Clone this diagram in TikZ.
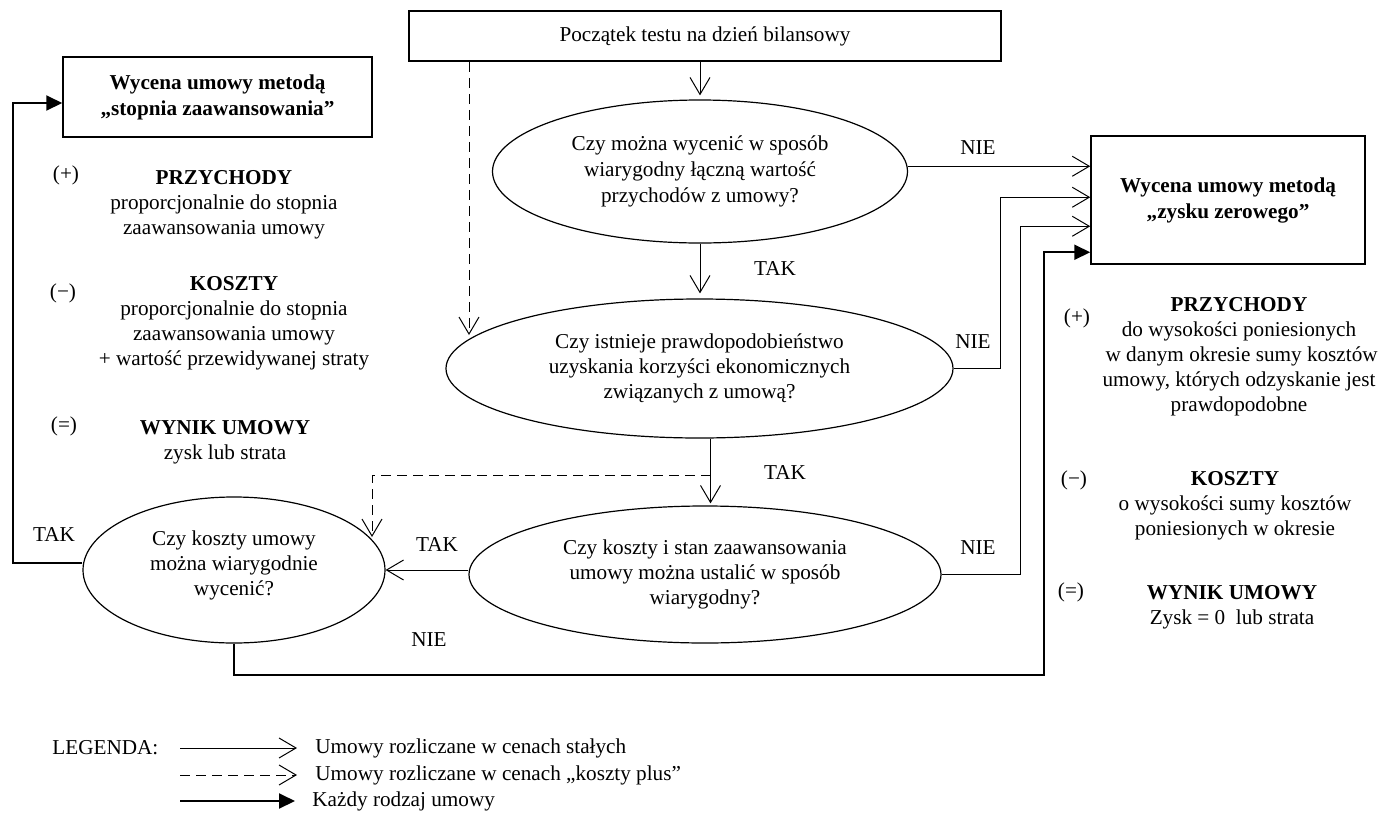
\documentclass[tikz,border=0pt]{standalone}
\usepackage{fontspec}
\setmainfont{Liberation Serif}
\usetikzlibrary{arrows.meta,shapes.geometric,calc}
\begin{document}
\begin{tikzpicture}[x=0.5pt,y=-0.5pt,
  txt/.style={font=\fontsize{10.6}{12.5}\selectfont, inner sep=0pt, align=center},
  box/.style={draw, line width=0.75pt, inner sep=0pt, align=center, font=\fontsize{10.6}{13}\selectfont},
  bbox/.style={box, font={\fontsize{10.6}{13}\selectfont\bfseries}},
  ell/.style={ellipse, draw, line width=0.6pt, inner sep=0pt, align=center, font=\fontsize{10.6}{12.5}\selectfont},
  arr/.style={line width=0.5pt, -{Straight Barb[length=8.5pt,width=10pt]}},
  darr/.style={arr, dash pattern=on 5pt off 3pt},
  tarr/.style={line width=1pt, -{Triangle[length=8pt,width=7.5pt]}},
]
\useasboundingbox (0,0) rectangle (1383,820);

% boxes
\node[box, minimum width=296pt, minimum height=25pt] (start) at (705,36) {Początek testu na dzień bilansowy};
\node[bbox, minimum width=154.5pt, minimum height=40pt] (lb) at (217.5,97) {Wycena umowy metodą\\„stopnia zaawansowania”};
\node[bbox, minimum width=137pt, minimum height=64pt] (zz) at (1228,200) {Wycena umowy metodą\\„zysku zerowego”};

% decisions
\node[ell, font=\fontsize{10.6}{13}\selectfont, minimum width=207.5pt, minimum height=71.5pt] (e1) at (700,171.5) {Czy można wycenić w sposób\\wiarygodny łączną wartość\\przychodów z umowy?};
\node[ell, minimum width=253.5pt, minimum height=69.5pt] (e2) at (699.5,368.5) {Czy istnieje prawdopodobieństwo\\uzyskania korzyści ekonomicznych\\związanych z umową?};
\node[ell, minimum width=236pt, minimum height=68.5pt] (e3) at (705,574.5) {Czy koszty i stan zaawansowania\\umowy można ustalić w sposób\\wiarygodny?};
\node[ell, text depth=7pt, minimum width=151pt, minimum height=73pt] (e4) at (234,570) {Czy koszty umowy\\można wiarygodnie\\wycenić?};

% helper coordinates
\coordinate (in1) at ($(zz.north west)+(0,31)$);
\coordinate (in2) at ($(zz.north west)+(0,62)$);
\coordinate (in3) at ($(zz.north west)+(0,91)$);
\coordinate (in4) at ($(zz.north west)+(0,117)$);
\coordinate (v2) at (1000,0);
\coordinate (v3) at (1020,0);
\coordinate (bx) at (1044,675);
\coordinate (lx) at (13,300);
\coordinate (d1) at (469,335);
\coordinate (t2) at ($(e2.south)+(11,0)$);
\coordinate (j1) at ($(t2)+(0,37)$);
\coordinate (d2) at (372,537);

% connectors
\draw[arr, shorten >=2pt] (start.south -| e1.north) -- (e1.north);
\draw[arr] (e1.east |- in1) -- (in1);
\draw[arr, shorten >=2.5pt] (e1.south) -- (e1.south |- e2.north);
\draw[arr] (e2.east) -- (e2.east -| v2) |- (in2);
\draw[arr, shorten >=1pt] (t2) -- (t2 |- e3.north);
\draw[arr] (e3.east) -- (e3.east -| v3) |- (in3);
\draw[arr] (e3.west |- e4.east) -- (e4.east);
\draw[darr] (start.south -| d1) -- (d1);
\draw[darr] (j1) -| (d2);
\draw[tarr] ([yshift=3.5pt]e4.west) -| (lx) |- ([yshift=-3pt]lb.west);
\draw[tarr] (e4.south) |- (bx) |- (in4);

% connector labels
\node[txt] (nie1) at (978,148) {NIE};
\node[txt] (nie2) at (973,342) {NIE};
\node[txt] (nie3) at (978,548) {NIE};
\node[txt] (nie4) at (429,640) {NIE};
\node[txt] (tak1) at (775,268) {TAK};
\node[txt] (tak2) at (785,472) {TAK};
\node[txt] (tak3) at (437,544) {TAK};
\node[txt] (tak4) at (54,534) {TAK};

% left description
\node[txt] (lp) at (66,175) {(+)};
\node[txt] (lpt) at (224,205) {\textbf{PRZYCHODY}\\proporcjonalnie do stopnia\\zaawansowania umowy};
\node[txt] (lm) at (63,293) {(−)};
\node[txt] (lmt) at (234,323.5) {\textbf{KOSZTY}\\proporcjonalnie do stopnia\\zaawansowania umowy\\+ wartość przewidywanej straty};
\node[txt] (le) at (64,426) {(=)};
\node[txt] (let) at (225,442) {\textbf{WYNIK UMOWY}\\zysk lub strata};

% right description
\node[txt] (rp) at (1077,318) {(+)};
\node[txt] (rpt) at (1239,357) {\textbf{PRZYCHODY}\\do wysokości poniesionych\\\ w danym okresie sumy kosztów\\umowy, których odzyskanie jest\\prawdopodobne};
\node[txt] (rm) at (1074,480) {(−)};
\node[txt] (rmt) at (1235,506) {\textbf{KOSZTY}\\o wysokości sumy kosztów\\poniesionych w okresie};
\node[txt] (re) at (1071,592) {(=)};
\node[txt] (ret) at (1232,607.5) {\textbf{WYNIK UMOWY}\\Zysk = 0\ \ lub strata};

% legend
\node[txt, anchor=west] (leg) at (52,748) {LEGENDA:};
\node[txt, anchor=west] (lt1) at (315,748) {Umowy rozliczane w cenach stałych};
\node[txt, anchor=west] (lt2) at (315,775) {Umowy rozliczane w cenach „koszty plus”};
\node[txt, anchor=west] (lt3) at (312,801) {Każdy rodzaj umowy};
\coordinate (ls1) at (180,748);
\coordinate (ls2) at (180,775);
\coordinate (ls3) at (180,801);
\draw[arr] (ls1) -- ([xshift=-9pt]lt1.west);
\draw[darr] (ls2) -- ([xshift=-9pt]lt2.west);
\draw[tarr] (ls3) -- ([xshift=-8.5pt]lt3.west);
\end{tikzpicture}
\end{document}
